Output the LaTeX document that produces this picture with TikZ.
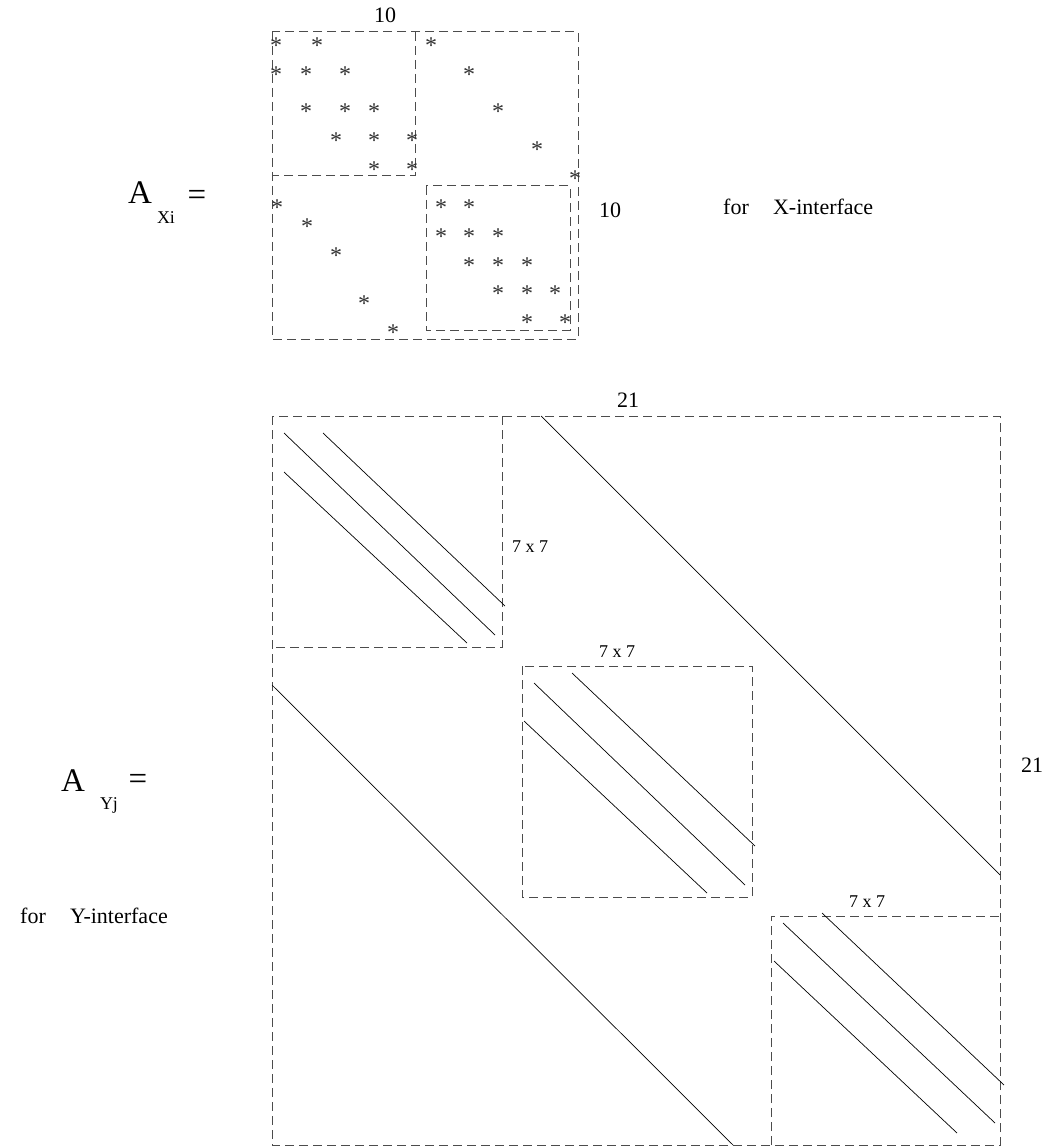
\documentclass[tikz,border=0pt]{standalone}
\usepackage{fontspec}
\setmainfont{Liberation Serif}
\usetikzlibrary{positioning}

\begin{document}
\begin{tikzpicture}[
  x=1pt, y=-1pt,
  blk/.style={draw=black!70, line width=1pt, dash pattern=on 9pt off 5pt},
  band/.style={line width=0.7pt},
  nz/.style={inner sep=0pt, text=black!80, font=\fontsize{24}{24}\selectfont, yshift=-4pt},
  dimlbl/.style={inner sep=0pt, font=\fontsize{22}{22}\selectfont},
  sizelbl/.style={inner sep=0pt, font=\fontsize{18}{18}\selectfont},
  bigA/.style={inner sep=0pt, font=\fontsize{33}{33}\selectfont},
  subA/.style={inner sep=0pt, font=\fontsize{18}{18}\selectfont}
]
\useasboundingbox (0,0) rectangle (1052,1147);

% ---- X-interface matrix
\draw[blk] (272,32) rectangle (578,339);
\draw[blk] (415,32) -- (415,176) -- (272,176);
\draw[blk] (426,186) rectangle (570,330);

\foreach \px/\py in {276/42,317/42,276/71,306/71,345/71,306/108,345/108,374/108,
    336/137,374/137,412/137,374/166,412/166,
    431/42,469/71,498/108,537/146,575/175,
    277/204,307/223,336/252,364/300,393/329,
    441/204,469/204,441/233,469/233,498/233,469/262,498/262,527/262,
    498/290,527/290,555/290,527/319,565/319}
  \node[nz] at (\px,\py) {*};

\node[dimlbl] (xtop) at (385,15) {10};
\node[dimlbl] (xside) at (610,210) {10};
\node[bigA] (ax) at (140,193) {A};
\node[subA] (axsub) at (166,218) {Xi};
\node[bigA] (axeq) at (197,198) {=};
\node[dimlbl, anchor=west] (xfor) at (723,207) {for\hspace{1.1em}X-interface};

% ---- Y-interface matrix
\draw[blk] (272,416) rectangle (1000,1145);
\draw[blk] (502,416) -- (502,647) -- (272,647);
\draw[blk] (522,666) rectangle (752,897);
\draw[blk] (771,1145) -- (771,916) -- (1000,916);

% tridiagonal blocks
\draw[band] (284,433) -- (495,635);
\draw[band] (323,433) -- (505,606);
\draw[band] (284,472) -- (467,643);

\draw[band] (534,683) -- (745,885);
\draw[band] (572,673) -- (755,846);
\draw[band] (524,721) -- (707,893);

\draw[band] (783,923) -- (995,1123);
\draw[band] (822,913) -- (1004,1085);
\draw[band] (774,961) -- (957,1133);

% coupling diagonals
\draw[band] (541,416) -- (1000,875);
\draw[band] (272,685) -- (733,1145);

\node[dimlbl] (ytop) at (628,400) {21};
\node[dimlbl] (yside) at (1032,765) {21};
\node[sizelbl] (sa) at (530,547) {7 x 7};
\node[sizelbl] (sb) at (617,652) {7 x 7};
\node[sizelbl] (sc) at (867,902) {7 x 7};
\node[bigA] (ay) at (73,781) {A};
\node[subA] (aysub) at (109,805) {Yj};
\node[bigA] (ayeq) at (138,782) {=};
\node[dimlbl, anchor=west] (yfor) at (20,916) {for\hspace{1.1em}Y-interface};
\end{tikzpicture}
\end{document}
